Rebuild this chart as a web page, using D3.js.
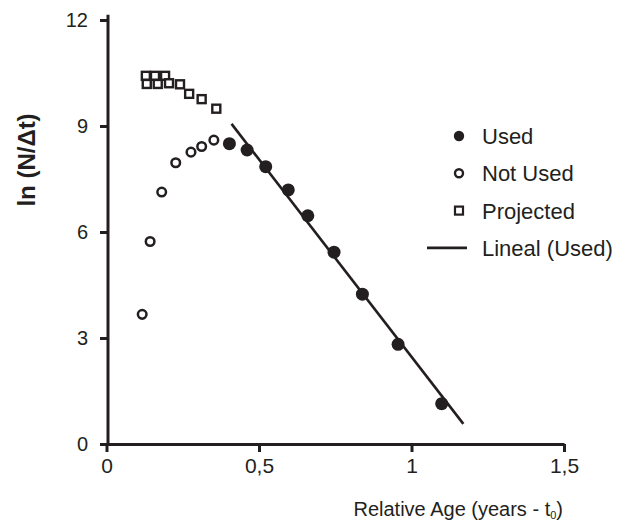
<!DOCTYPE html>
<html>
<head>
<meta charset="utf-8">
<script src="https://cdn.jsdelivr.net/npm/d3@7"></script>
<style>
  body { margin: 0; background: #fff; }
  svg { font-family: "Liberation Sans", Arial, sans-serif; }
</style>
</head>
<body>
<svg id="chart"></svg>
<script>
const chart = d3.select("#chart");
const width = 631, height = 520;
const ink = "#231f20";

// Values
const usedX = [0.403, 0.461, 0.522, 0.596, 0.660, 0.746, 0.839, 0.956, 1.099];
const usedY = [8.50, 8.32, 7.85, 7.19, 6.46, 5.43, 4.24, 2.82, 1.14];

const notUsedX = [0.117, 0.143, 0.181, 0.227, 0.277, 0.312, 0.352];
const notUsedY = [3.67, 5.73, 7.13, 7.96, 8.26, 8.42, 8.60];

const projectedX = [0.129, 0.159, 0.192, 0.132, 0.168, 0.205, 0.241, 0.271, 0.312, 0.360];
const projectedY = [10.42, 10.42, 10.42, 10.19, 10.19, 10.21, 10.18, 9.91, 9.76, 9.49];

// fitted line (Lineal (Used)) endpoints
const fitX = [0.41, 1.17];
const fitY = [9.06, 0.57];

const xTicks = [0, 0.5, 1, 1.5];
const xTickLabels = ["0", "0,5", "1", "1,5"];
const yTicks = [0, 3, 6, 9, 12];
const legendLabels = ["Used", "Not Used", "Projected", "Lineal (Used)"];

chart.attr("width", width).attr("height", height);

const x = d3.scaleLinear().domain([0, 1.5]).range([106.5, 564]);
const y = d3.scaleLinear().domain([0, 12]).range([444, 20]);

// X axis
const xAxis = chart.append("g")
  .attr("transform", `translate(0,${y(0)})`)
  .call(d3.axisBottom(x).tickValues(xTicks)
    .tickFormat((d, i) => xTickLabels[i])
    .tickSize(8).tickSizeOuter(0).tickPadding(6));
xAxis.select(".domain").attr("stroke", ink).attr("stroke-width", 3);
xAxis.selectAll(".tick line").attr("stroke", ink).attr("stroke-width", 3);
xAxis.selectAll(".tick text").attr("fill", ink).style("font-size", "21px");

// Y axis
const yAxis = chart.append("g")
  .attr("transform", `translate(${x(0) + 1.5},0)`)
  .call(d3.axisLeft(y).tickValues(yTicks)
    .tickSize(8).tickSizeOuter(0).tickPadding(12));
yAxis.select(".domain").remove();
yAxis.append("line")
  .attr("y1", y(0) + 1.5).attr("y2", y(12.15))
  .attr("stroke", ink).attr("stroke-width", 3);
yAxis.selectAll(".tick line").attr("stroke", ink).attr("stroke-width", 3);
yAxis.selectAll(".tick text").attr("fill", ink).style("font-size", "20px");

// Axis titles
chart.append("text")
  .attr("transform", `translate(35,160) rotate(-90)`)
  .attr("text-anchor", "middle")
  .style("font-size", "24px")
  .style("font-weight", "bold")
  .attr("fill", ink)
  .text("ln (N/Δt)");

const xt = chart.append("text")
  .attr("x", 563)
  .attr("y", 516)
  .attr("text-anchor", "end")
  .style("font-size", "20px")
  .attr("fill", ink);
xt.append("tspan").text("Relative Age (years - t");
xt.append("tspan").attr("dy", 3).style("font-size", "11px").text("0");
xt.append("tspan").attr("dy", -3).text(")");

// Fitted line
chart.append("line")
  .attr("x1", x(fitX[0])).attr("y1", y(fitY[0]))
  .attr("x2", x(fitX[1])).attr("y2", y(fitY[1]))
  .attr("stroke", ink).attr("stroke-width", 2.6);

// Projected squares
const sq = 8;
chart.append("g").selectAll("rect")
  .data(projectedX.map((d, i) => [d, projectedY[i]]))
  .join("rect")
  .attr("x", d => x(d[0]) - sq / 2)
  .attr("y", d => y(d[1]) - sq / 2)
  .attr("width", sq).attr("height", sq)
  .attr("fill", "#fff")
  .attr("stroke", ink).attr("stroke-width", 2.4);

// Not used (open circles)
chart.append("g").selectAll("circle")
  .data(notUsedX.map((d, i) => [d, notUsedY[i]]))
  .join("circle")
  .attr("cx", d => x(d[0]))
  .attr("cy", d => y(d[1]))
  .attr("r", 4.3)
  .attr("fill", "#fff")
  .attr("stroke", ink).attr("stroke-width", 2.5);

// Used (filled circles)
chart.append("g").selectAll("circle")
  .data(usedX.map((d, i) => [d, usedY[i]]))
  .join("circle")
  .attr("cx", d => x(d[0]))
  .attr("cy", d => y(d[1]))
  .attr("r", 6.5)
  .attr("fill", ink);

// Legend
const legend = chart.append("g").attr("transform", "translate(459,136)");
const rowH = 37.3;
legend.append("circle").attr("cx", 0).attr("cy", 0).attr("r", 5.2).attr("fill", ink);
legend.append("circle").attr("cx", 0).attr("cy", rowH).attr("r", 4)
  .attr("fill", "#fff").attr("stroke", ink).attr("stroke-width", 2.4);
legend.append("rect").attr("x", -4).attr("y", rowH * 2 - 4).attr("width", 8).attr("height", 8)
  .attr("fill", "#fff").attr("stroke", ink).attr("stroke-width", 2.2);
legend.append("line").attr("x1", -32).attr("x2", 8)
  .attr("y1", rowH * 3).attr("y2", rowH * 3)
  .attr("stroke", ink).attr("stroke-width", 2.6);
legend.selectAll("text.lbl")
  .data(legendLabels)
  .join("text")
  .attr("class", "lbl")
  .attr("x", 23)
  .attr("y", (d, i) => i * rowH)
  .attr("dy", "0.36em")
  .style("font-size", "22px")
  .attr("fill", ink)
  .text(d => d);
</script>
</body>
</html>
